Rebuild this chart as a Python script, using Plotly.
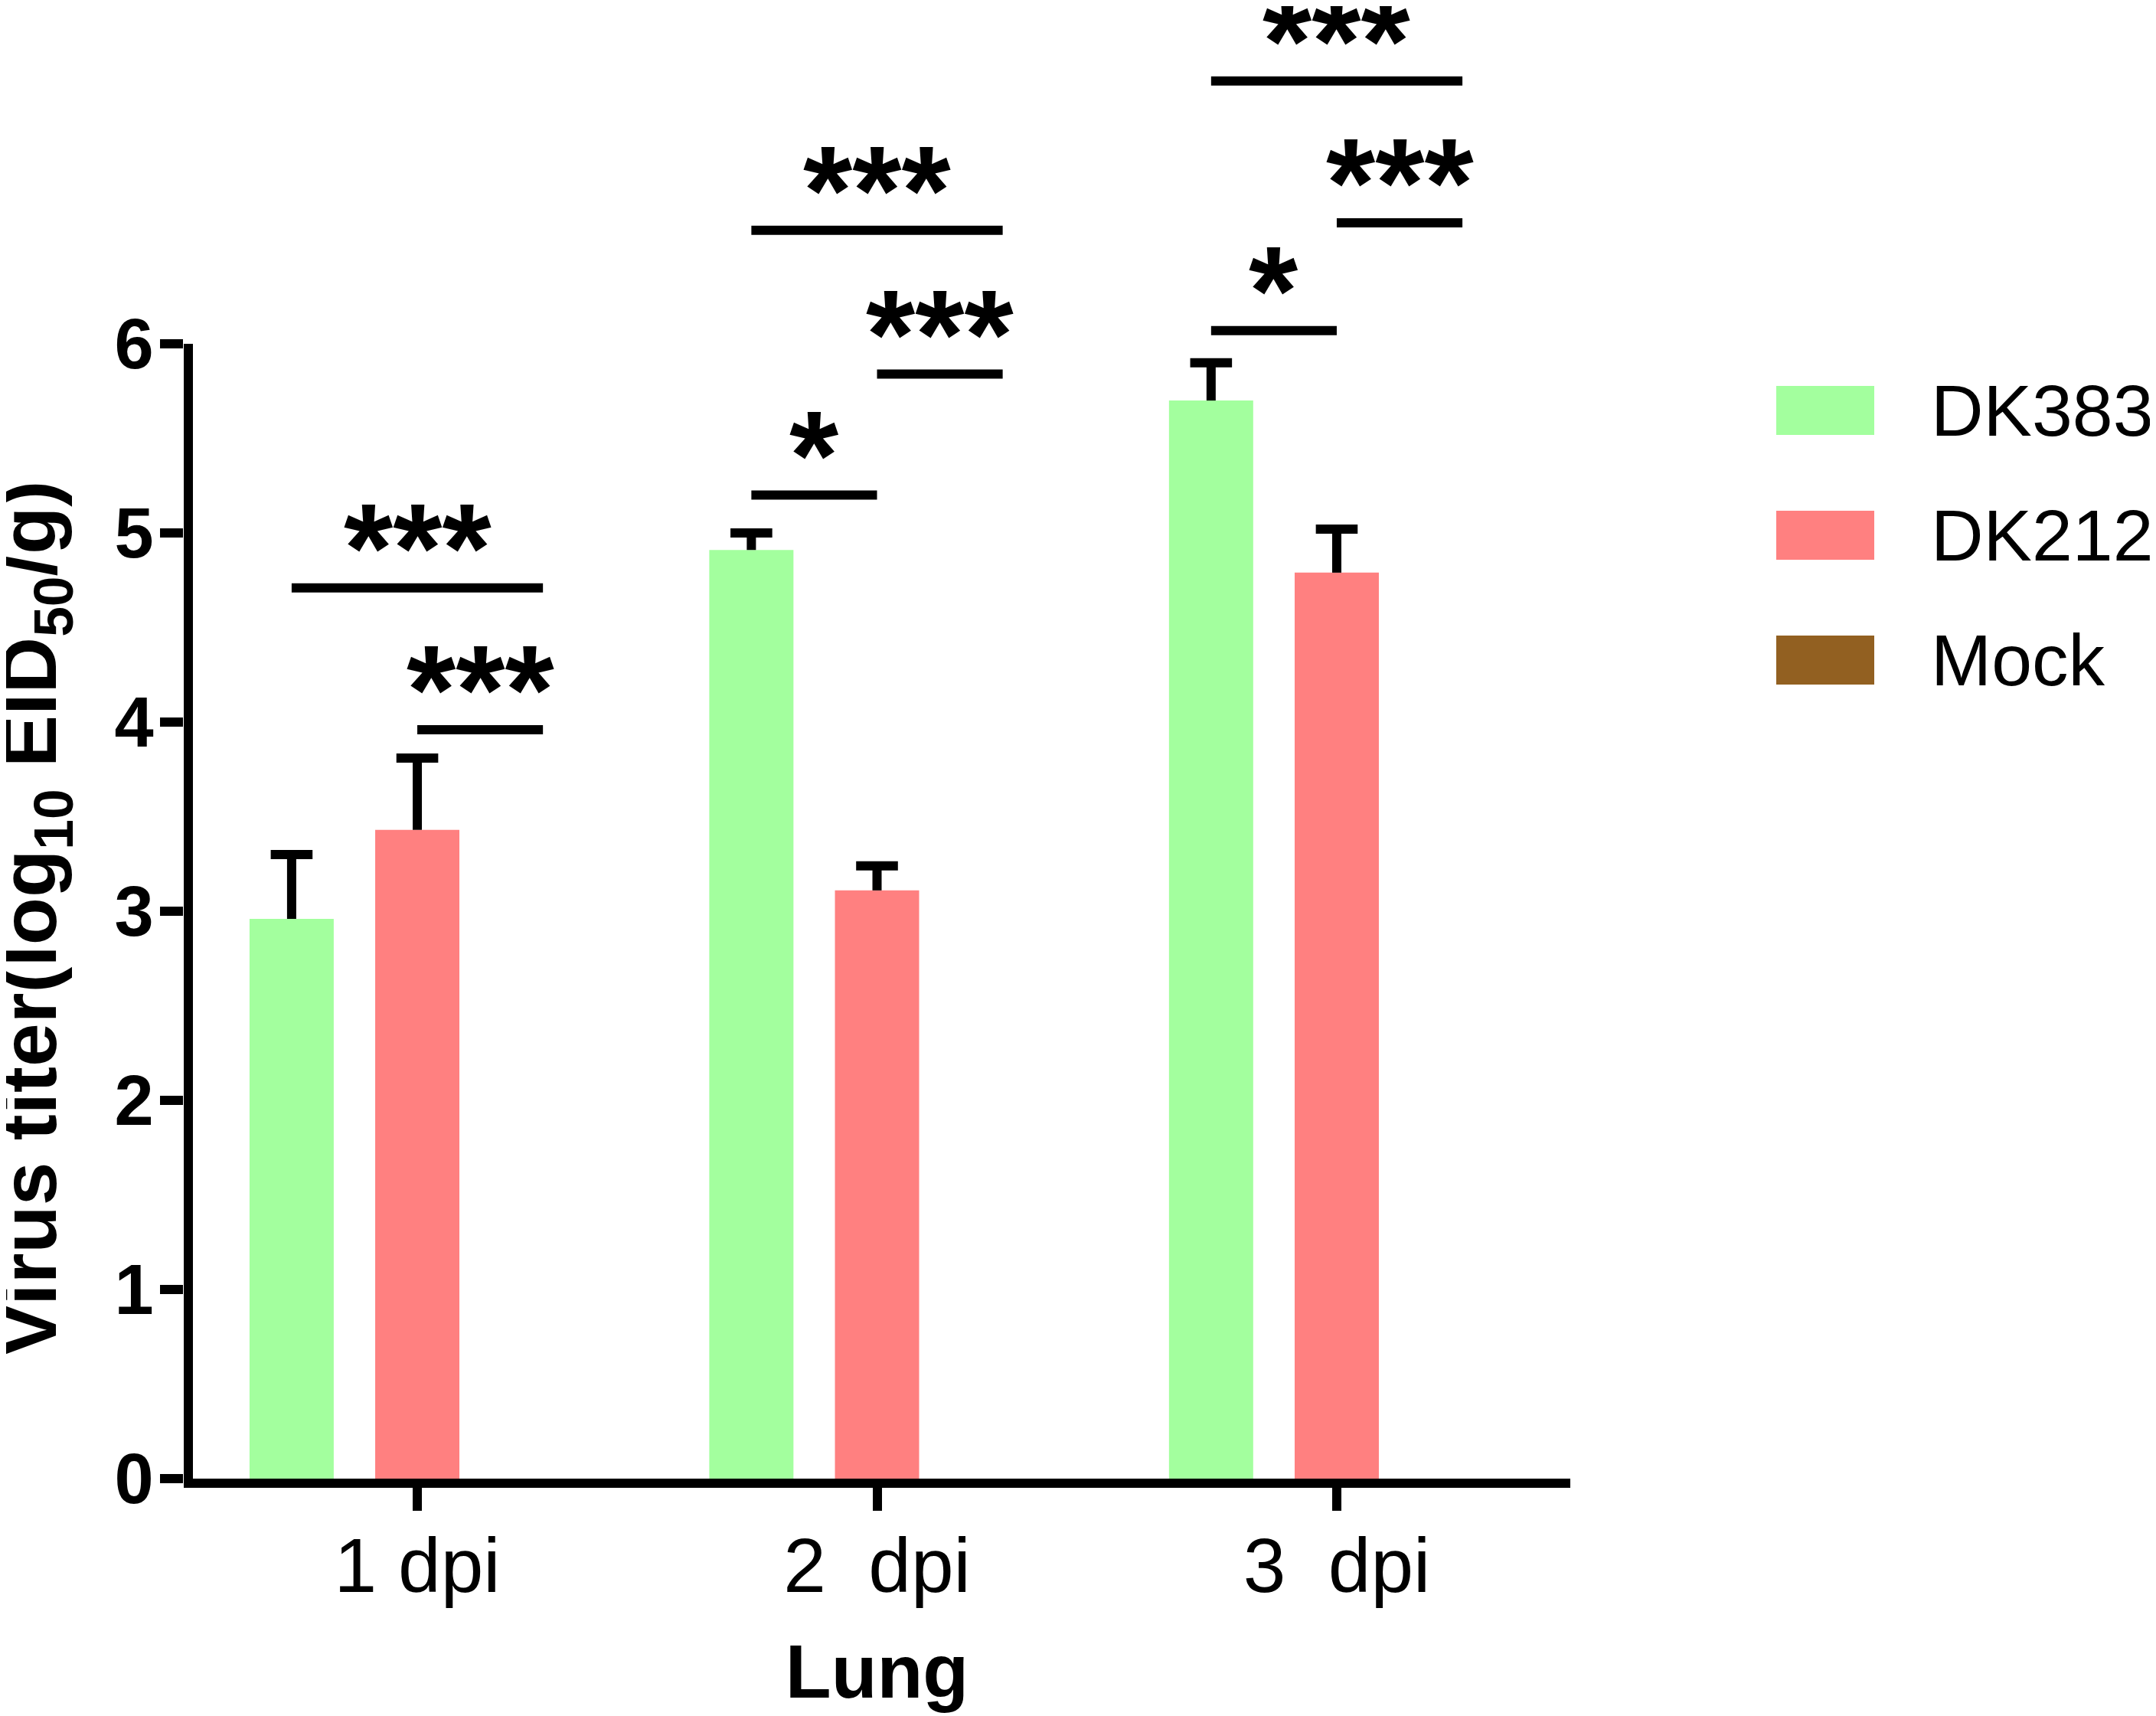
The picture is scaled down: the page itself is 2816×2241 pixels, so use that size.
import plotly.graph_objects as go

# dias apos a infeccao (eixo x)
categorias = ["1 dpi", "2\u00a0 dpi", "3\u00a0 dpi"]

# grupos e cores das barras
grupos = ["DK383", "DK212", "Mock"]
cores = ["#A3FF9E", "#FF8080", "#926021"]

# titulo do virus no pulmao (log10 EID50/g): media e erro (so para cima)
dk383 = [2.96, 4.91, 5.70]
dk383_err = [0.34, 0.09, 0.20]
dk212 = [3.43, 3.11, 4.79]
dk212_err = [0.38, 0.13, 0.23]
mock = [0, 0, 0]
mock_err = [0, 0, 0]

# comparacoes estatisticas: dia, barra de origem, barra de destino, altura, texto
comp_dia = [0, 0, 1, 1, 1, 2, 2, 2]
comp_de = [0, 1, 0, 1, 0, 0, 1, 0]
comp_ate = [2, 2, 1, 2, 2, 1, 2, 2]
comp_y = [4.71, 3.96, 5.20, 5.84, 6.60, 6.07, 6.64, 7.39]
comp_txt = ["***", "***", "*", "***", "***", "*", "***", "***"]

y_ticks = [0, 1, 2, 3, 4, 5, 6]

# geometria da figura (a pagina tem 8 px de margem no body)
W, H = 2816, 2241
OFF = 8
ML, MR, MT, MB = 232, 773, 0, 318
PW, PH = W - ML - MR, H - MT - MB
Y_TOP = PH / 247.0
BARGAP = 0.18
GROUPGAP = 0.33
slot = (1 - BARGAP) / len(grupos)


# converte pixel da tela para coordenada "paper"
def px_x(px):
    return (px - OFF - ML) / PW


def px_y(py):
    return (H - MB - (py - OFF)) / PH


x = list(range(len(categorias)))
series = [dk383, dk212, mock]
erros = [dk383_err, dk212_err, mock_err]

fig = go.Figure()

# barras com a haste do erro
for nome, cor, vals, err in zip(grupos, cores, series, erros):
    fig.add_trace(go.Bar(
        x=x, y=vals, name=nome,
        marker=dict(color=cor, line_width=0),
        error_y=dict(type="data", symmetric=False, array=err, arrayminus=[0] * len(err),
                     width=0, thickness=12, color="black", visible=any(err)),
        showlegend=False, hoverinfo="skip",
    ))

# tampa do erro (so no topo)
for i, (vals, err) in enumerate(zip(series, erros)):
    if not any(err):
        continue
    fig.add_trace(go.Scatter(
        x=[xi + (i - 1) * slot for xi in x],
        y=[v + e for v, e in zip(vals, err)],
        mode="markers",
        marker=dict(symbol="line-ew", size=39, line=dict(width=12, color="black")),
        showlegend=False, hoverinfo="skip",
    ))

# linhas de significancia e asteriscos
for d, a, b, yv, txt in zip(comp_dia, comp_de, comp_ate, comp_y, comp_txt):
    x0 = d + (a - 1) * slot
    x1 = d + (b - 1) * slot
    fig.add_shape(type="line", xref="x", yref="y", x0=x0, x1=x1, y0=yv, y1=yv,
                  line=dict(color="black", width=12))
    fig.add_annotation(x=(x0 + x1) / 2, y=yv, xref="x", yref="y", text=txt,
                       showarrow=False, yanchor="middle", yshift=52,
                       font=dict(size=165, weight="bold", color="black"))

# linha do eixo y (so ate 6)
fig.add_shape(type="line", xref="paper", yref="y", x0=px_x(246), x1=px_x(246),
              y0=0, y1=max(y_ticks), line=dict(color="black", width=12))

# titulo do eixo y
fig.add_annotation(x=px_x(45), y=2.96, xref="paper", yref="y",
                   text="<b>Virus titer(log<sub>10</sub> EID<sub>50</sub>/g)</b>",
                   textangle=-90, showarrow=False, xanchor="center", yanchor="middle",
                   font=dict(size=102, color="black"))

# legenda desenhada a mao
for i, (nome, cor) in enumerate(zip(grupos, cores)):
    cy = 536 + 163 * i
    fig.add_shape(type="rect", xref="paper", yref="paper",
                  x0=px_x(2320), x1=px_x(2448), y0=px_y(cy + 32), y1=px_y(cy - 32),
                  fillcolor=cor, line_width=0)
    fig.add_annotation(x=px_x(2520), y=px_y(cy), xref="paper", yref="paper", text=nome,
                       showarrow=False, xanchor="left", yanchor="middle",
                       font=dict(size=95, color="black"))

fig.update_layout(
    width=W, height=H,
    margin=dict(l=ML, r=MR, t=MT, b=MB),
    plot_bgcolor="white", paper_bgcolor="white",
    barmode="group", bargap=BARGAP, bargroupgap=GROUPGAP,
    font=dict(family="Liberation Sans, Arial, sans-serif", color="black"),
    showlegend=False,
    xaxis=dict(
        range=[-0.508, 2.508], tickvals=x, ticktext=categorias,
        showline=True, linewidth=12, linecolor="black",
        ticks="outside", ticklen=30, tickwidth=12, tickcolor="black",
        tickfont=dict(size=100), ticklabelstandoff=-14,
        showgrid=False, zeroline=False,
        title=dict(text="<b>Lung</b>", font=dict(size=98), standoff=54),
    ),
    yaxis=dict(
        range=[0, Y_TOP], tickvals=y_ticks,
        showline=False, ticks="outside", ticklen=30, tickwidth=12, tickcolor="black",
        tickfont=dict(size=92, weight="bold"), ticklabelstandoff=-10,
        showgrid=False, zeroline=False,
    ),
)

fig.write_html("out.html")
